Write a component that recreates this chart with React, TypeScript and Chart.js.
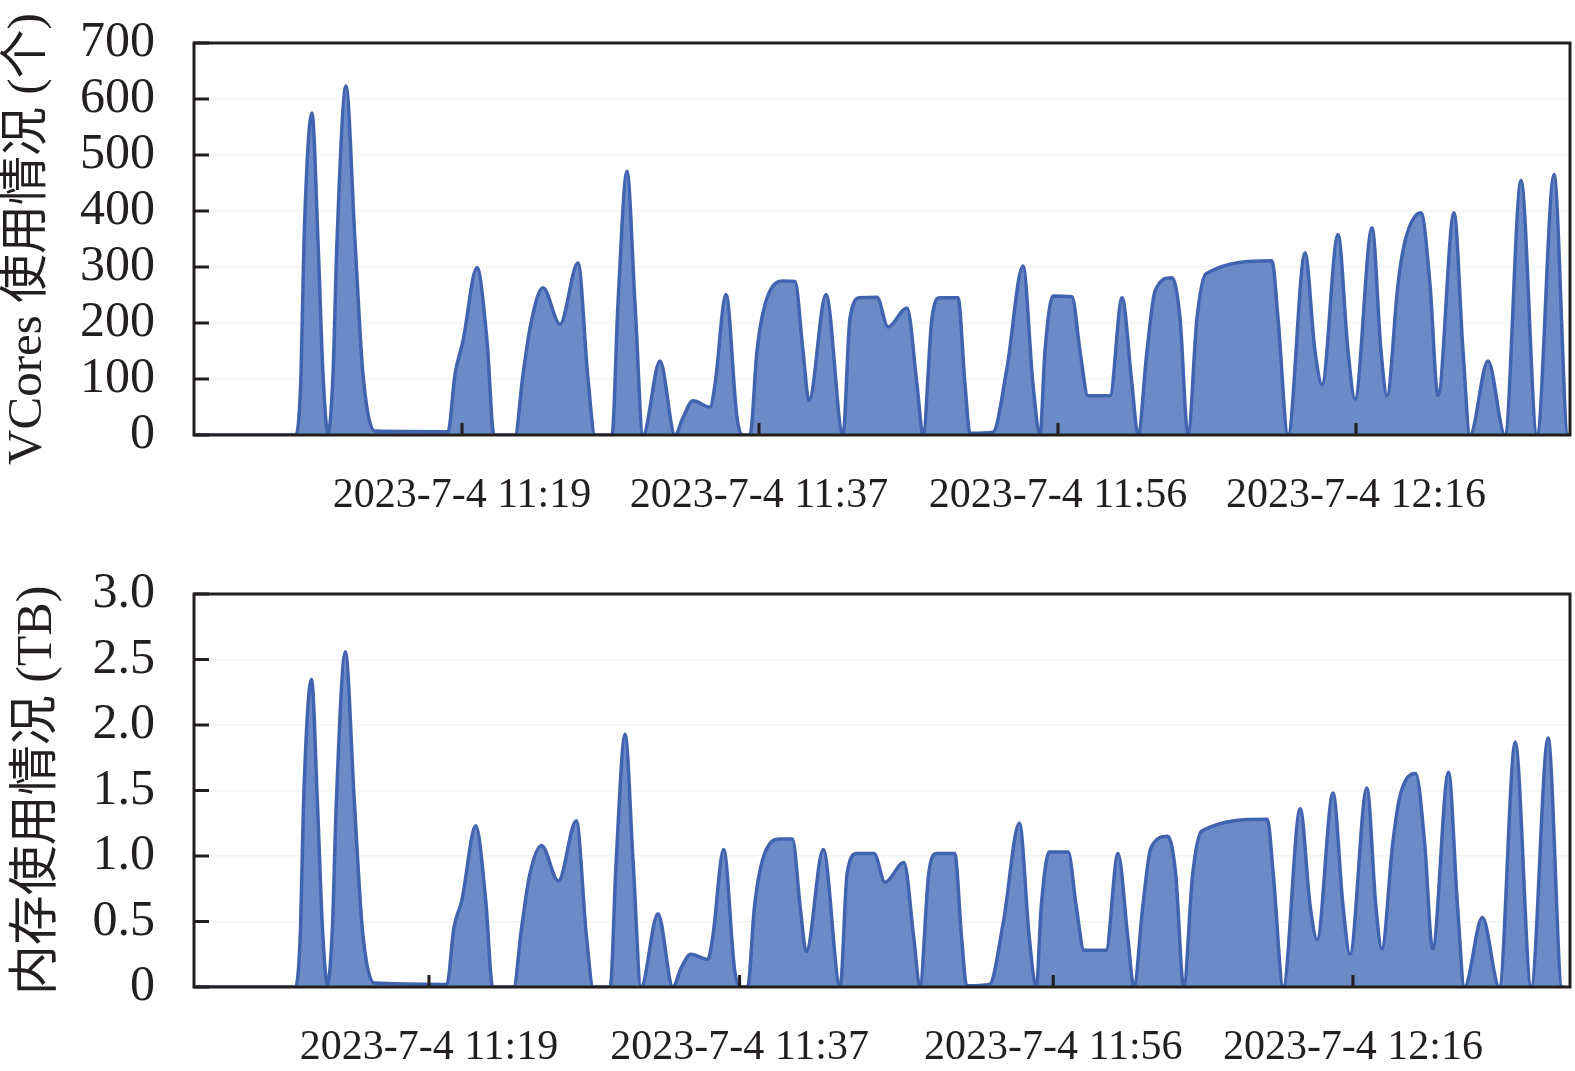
import React, { useEffect, useRef } from 'react';
import { Chart, registerables } from 'chart.js';

Chart.register(...registerables);

// Sample index along the monitoring window (shared by both panels)
const TIME_INDEX = [
  0, 102, 107, 110, 118, 124, 129, 134, 139, 143, 152, 161, 169, 181, 254, 261, 269, 283, 293, 300,
  321, 329, 337, 349, 366, 384, 394, 401, 418, 424, 433, 441, 449, 466, 481, 489, 499, 516, 521, 532,
  543, 549, 556, 563, 571, 589, 601, 609, 615, 632, 649, 656, 666, 683, 694, 713, 723, 729, 738, 746,
  764, 771, 776, 799, 813, 829, 839, 846, 851, 859, 878, 886, 894, 916, 928, 938, 944, 953, 961, 978,
  986, 994, 1003, 1012, 1078, 1084, 1094, 1111, 1121, 1128, 1144, 1154, 1161, 1178, 1187, 1193, 1204, 1211, 1227, 1236,
  1244, 1260, 1269, 1276, 1294, 1311, 1327, 1343, 1360, 1374, 1376,
];

// VCores in use
const VCORES = [
  0, 0, 108, 346, 575, 346, 108, 3, 108, 346, 623, 346, 108, 7, 6, 108, 168, 299, 168, 0,
  0, 108, 200, 263, 198, 307, 100, 0, 0, 235, 471, 235, 0, 132, 0, 31, 61, 50, 90, 251,
  31, 0, 0, 150, 233, 275, 274, 150, 61, 251, 0, 209, 245, 246, 193, 227, 90, 0, 209, 245,
  245, 90, 3, 5, 120, 302, 90, 0, 150, 248, 247, 150, 70, 70, 245, 90, 0, 150, 257, 281,
  209, 0, 209, 288, 311, 209, 0, 325, 150, 90, 358, 150, 64, 370, 150, 70, 269, 346, 397, 269,
  70, 397, 150, 0, 132, 0, 455, 0, 465, 0, 0,
];

// Memory in use (TB)
const MEMORY_TB = [
  0, 0, 0.45, 1.4, 2.35, 1.4, 0.45, 0.02, 0.45, 1.42, 2.56, 1.42, 0.45, 0.03, 0.02, 0.45, 0.66, 1.23, 0.66, 0,
  0, 0.45, 0.85, 1.08, 0.81, 1.27, 0.4, 0, 0, 0.96, 1.93, 0.96, 0, 0.56, 0, 0.14, 0.25, 0.21, 0.38, 1.05,
  0.13, 0, 0, 0.62, 0.97, 1.13, 1.13, 0.6, 0.27, 1.05, 0, 0.87, 1.02, 1.02, 0.8, 0.95, 0.37, 0, 0.87, 1.02,
  1.02, 0.37, 0.01, 0.02, 0.5, 1.25, 0.37, 0, 0.62, 1.03, 1.03, 0.62, 0.28, 0.28, 1.02, 0.37, 0, 0.62, 1.06, 1.15,
  0.86, 0, 0.86, 1.19, 1.28, 0.86, 0, 1.36, 0.62, 0.36, 1.48, 0.62, 0.25, 1.52, 0.62, 0.29, 1.1, 1.45, 1.63, 1.1,
  0.29, 1.64, 0.62, 0, 0.53, 0, 1.87, 0, 1.9, 0, 0,
];

const TIME_LABELS = ['2023-7-4 11:19', '2023-7-4 11:37', '2023-7-4 11:56', '2023-7-4 12:16'];
const TOP_LABEL_POS = [268, 565, 864, 1162];
const BOTTOM_LABEL_POS = [236, 548, 863, 1164];
const VCORE_TICKS = [0, 100, 200, 300, 400, 500, 600, 700];
const MEMORY_TICKS = [0, 0.5, 1.0, 1.5, 2.0, 2.5, 3.0];

const FONT = '"Liberation Serif", "Times New Roman", "Noto Sans CJK SC", serif';
const TEXT = '#231f20';
const FILL = 'rgb(107, 138, 198)';
const LINE = 'rgb(66, 100, 176)';

const framePlugin = {
  id: 'frameTicks',
  afterDraw(chart: any) {
    const { ctx, chartArea: a, scales } = chart;
    ctx.save();
    ctx.strokeStyle = TEXT;
    ctx.lineWidth = 3;
    ctx.beginPath();
    scales.y.ticks.forEach((t: any) => {
      const y = scales.y.getPixelForValue(t.value);
      ctx.moveTo(a.left, y);
      ctx.lineTo(a.left + 15, y);
    });
    scales.x.ticks.forEach((t: any) => {
      const x = scales.x.getPixelForValue(t.value);
      ctx.moveTo(x, a.bottom);
      ctx.lineTo(x, a.bottom - 12);
    });
    ctx.stroke();
    ctx.strokeRect(a.left, a.top, a.right - a.left, a.bottom - a.top);
    ctx.restore();
  },
};

type PanelOpts = {
  values: number[];
  yTicks: number[];
  yMax: number;
  fmt: (v: number) => string;
  xMax: number;
  xTicks: number[];
  title: string;
  titleSize: number;
  titlePad: number;
  areaTop: number;
  areaBottom: number;
  canvasH: number;
  xLabelPad: number;
};

function buildChart(canvas: HTMLCanvasElement, o: PanelOpts) {
  return new Chart(canvas, {
    type: 'line',
    data: {
      datasets: [
        {
          data: TIME_INDEX.map((t, i) => ({ x: t, y: o.values[i] })),
          borderColor: LINE,
          backgroundColor: FILL,
          borderWidth: 3.5,
          fill: 'origin',
          pointRadius: 0,
          cubicInterpolationMode: 'monotone',
        },
      ],
    },
    options: {
      animation: false,
      responsive: false,
      layout: { padding: { top: o.areaTop, right: 5, left: 0, bottom: 0 } },
      plugins: { legend: { display: false }, tooltip: { enabled: false } },
      scales: {
        x: {
          type: 'linear',
          min: 0,
          max: o.xMax,
          afterBuildTicks: (s: any) => {
            s.ticks = o.xTicks.map((v) => ({ value: v }));
          },
          afterFit: (s: any) => {
            s.height = o.canvasH - o.areaBottom;
            s.paddingLeft = 0;
            s.paddingRight = 0;
          },
          grid: { display: false, drawTicks: false },
          border: { display: false },
          ticks: {
            autoSkip: false,
            maxRotation: 0,
            minRotation: 0,
            padding: o.xLabelPad,
            color: TEXT,
            font: { family: FONT, size: 42 },
            callback: (_v: any, i: number) => TIME_LABELS[i],
          },
        },
        y: {
          min: 0,
          max: o.yMax,
          afterBuildTicks: (s: any) => {
            s.ticks = o.yTicks.map((v) => ({ value: v }));
          },
          afterFit: (s: any) => {
            s.width = 194;
            s.paddingTop = 0;
            s.paddingBottom = 0;
          },
          grid: { color: 'rgba(0,0,0,0.045)', drawTicks: false, lineWidth: 1.5 },
          border: { display: false },
          ticks: {
            autoSkip: false,
            padding: 39,
            color: TEXT,
            font: { family: FONT, size: 50 },
            callback: (v: any) => o.fmt(Number(v)),
          },
          title: {
            display: true,
            text: o.title,
            color: TEXT,
            font: { family: FONT, size: o.titleSize },
            padding: { top: o.titlePad, bottom: 0 },
          },
        },
      },
    } as any,
    plugins: [framePlugin],
  });
}

export default function App() {
  const topRef = useRef<HTMLCanvasElement>(null);
  const botRef = useRef<HTMLCanvasElement>(null);

  useEffect(() => {
    const top = buildChart(topRef.current!, {
      values: VCORES,
      yTicks: VCORE_TICKS,
      yMax: 700,
      fmt: (v) => String(v),
      xMax: 1376,
      xTicks: TOP_LABEL_POS,
      title: 'VCores 使用情况 (个)',
      titleSize: 49,
      titlePad: -1,
      areaTop: 43,
      areaBottom: 435,
      canvasH: 540,
      xLabelPad: 36,
    });
    const bottom = buildChart(botRef.current!, {
      values: MEMORY_TB,
      yTicks: MEMORY_TICKS,
      yMax: 3,
      fmt: (v) => (v === 0 ? '0' : v.toFixed(1)),
      xMax: 1382,
      xTicks: BOTTOM_LABEL_POS,
      title: '内存使用情况 (TB)',
      titleSize: 50,
      titlePad: 8,
      areaTop: 54,
      areaBottom: 447,
      canvasH: 531,
      xLabelPad: 36,
    });
    return () => {
      top.destroy();
      bottom.destroy();
    };
  }, []);

  return (
    <div style={{ position: 'fixed', left: 0, top: 0, width: 1575, height: 1071, background: '#fff' }}>
      <canvas ref={topRef} width={1575} height={540} style={{ position: 'absolute', left: 0, top: 0 }} />
      <canvas ref={botRef} width={1575} height={531} style={{ position: 'absolute', left: 0, top: 540 }} />
    </div>
  );
}
